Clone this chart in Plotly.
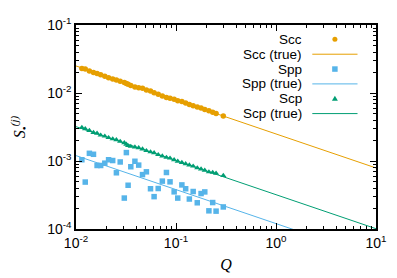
import plotly.graph_objects as go

# ---------------- data ----------------
Q = [0.01145, 0.01237, 0.01361, 0.01496, 0.01625, 0.01765, 0.01941, 0.02118,
     0.02328, 0.02535, 0.02767, 0.03041, 0.03189, 0.03320, 0.03532, 0.03882,
     0.04236, 0.04624, 0.05058, 0.05560, 0.06040, 0.06640, 0.07299, 0.08025,
     0.08717, 0.09583, 0.1041, 0.1145, 0.1249, 0.1360, 0.1485, 0.1632,
     0.1781, 0.1940, 0.2133, 0.2327, 0.2517, 0.2971]

Scc = [0.0229, 0.0225, 0.0210, 0.0201, 0.0194, 0.0186, 0.0176, 0.0168,
       0.0161, 0.0155, 0.0149, 0.0143, 0.0138, 0.0134, 0.0129, 0.0123,
       0.0119, 0.0117, 0.0111, 0.0107, 0.0101, 0.0096, 0.0090, 0.0086,
       0.0084, 0.0081, 0.0077, 0.0075, 0.0071, 0.0068, 0.0065, 0.0062,
       0.0060, 0.0057, 0.0055, 0.0052, 0.0050, 0.0046]

Spp = [1.043e-3, 4.90e-4, 1.297e-3, 1.255e-3, 8.59e-4, 8.59e-4, 9.29e-4, 1.043e-3,
       1.016e-3, 6.71e-4, 9.68e-4, 2.85e-4, 1.33e-3, 4.40e-4, 8.23e-4, 9.91e-4,
       8.70e-4, 6.31e-4, 6.93e-4, 3.91e-4, 2.99e-4, 3.94e-4, 5.06e-4, 6.78e-4,
       4.94e-4, 3.52e-4, 2.85e-4, 4.45e-4, 3.91e-4, 2.76e-4, 3.56e-4, 2.43e-4,
       3.32e-4, 3.51e-4, 1.85e-4, 2.45e-4, 1.83e-4, 2.11e-4]

Scp = [0.00310, 0.00298, 0.00280, 0.00262, 0.00255, 0.00240, 0.00232, 0.00220,
       0.00211, 0.00205, 0.00194, 0.00185, 0.00176, 0.00168, 0.00164, 0.00160,
       0.00156, 0.00150, 0.00142, 0.00136, 0.00132, 0.00124, 0.00118, 0.00113,
       0.00110, 0.00104, 0.00099, 0.00095, 0.00091, 0.00087, 0.00084, 0.00079,
       0.00076, 0.00073, 0.00069, 0.00068, 0.00066, 0.00061]

# "true" power-law lines: endpoints at Q = 0.01 and Q = 10
Q_true = [0.01, 10]
Scc_true = [0.025, 7.9e-4]
Spp_true = [1.2e-3, 3.8e-5]
Scp_true = [3.2e-3, 1.01e-4]

x_tickvals = [0.01, 0.1, 1, 10]
x_ticktext = ["10<sup>-2</sup>", "10<sup>-1</sup>", "10<sup>0</sup>", "10<sup>1</sup>"]
y_tickvals = [1e-4, 1e-3, 1e-2, 1e-1]
y_ticktext = ["10<sup>-4</sup>", "10<sup>-3</sup>", "10<sup>-2</sup>", "10<sup>-1</sup>"]

legend_labels = ["Scc", "Scc (true)", "Spp", "Spp (true)", "Scp", "Scp (true)"]

C_CC = "#e69f00"
C_PP = "#56b4e9"
C_CP = "#009e73"

# ---------------- figure ----------------
fig = go.Figure()

fig.add_trace(go.Scatter(x=Q_true, y=Scc_true, mode="lines", name="Scc (true)",
                         line=dict(color=C_CC, width=1), showlegend=False))
fig.add_trace(go.Scatter(x=Q_true, y=Spp_true, mode="lines", name="Spp (true)",
                         line=dict(color=C_PP, width=1), showlegend=False))
fig.add_trace(go.Scatter(x=Q_true, y=Scp_true, mode="lines", name="Scp (true)",
                         line=dict(color=C_CP, width=1), showlegend=False))

fig.add_trace(go.Scatter(x=Q, y=Scc, mode="markers", name="Scc",
                         marker=dict(color=C_CC, size=5.5, symbol="circle"),
                         showlegend=False))
fig.add_trace(go.Scatter(x=Q, y=Spp, mode="markers", name="Spp",
                         marker=dict(color=C_PP, size=5.5, symbol="square"),
                         showlegend=False))
fig.add_trace(go.Scatter(x=Q, y=Scp, mode="markers", name="Scp",
                         marker=dict(color=C_CP, size=5.5, symbol="triangle-up"),
                         showlegend=False))

minor_x = [m * 10 ** e for e in range(-2, 1) for m in range(2, 10)]
minor_y = [m * 10 ** e for e in range(-4, -1) for m in range(2, 10)]

tick_font = dict(family="Liberation Sans, Arial, sans-serif", size=14, color="black")
title_font = dict(family="Liberation Serif, Times New Roman, serif", size=16, color="black")

fig.update_xaxes(type="log", range=[-2, 1], tickmode="array",
                 tickvals=x_tickvals, ticktext=x_ticktext,
                 ticks="inside", ticklen=6, tickwidth=1, tickcolor="black",
                 mirror="allticks", showline=True, linecolor="black", linewidth=1.5,
                 showgrid=False, zeroline=False, tickfont=tick_font,
                 ticklabeloverflow="allow",
                 minor=dict(tickvals=minor_x, ticks="inside", ticklen=3,
                            tickcolor="black", showgrid=False),
                 title=dict(text="<i>Q</i>", font=title_font, standoff=9))
fig.update_yaxes(type="log", range=[-4, -1], tickmode="array",
                 tickvals=y_tickvals, ticktext=y_ticktext,
                 ticks="inside", ticklen=6, tickwidth=1, tickcolor="black",
                 mirror="allticks", showline=True, linecolor="black", linewidth=1.5,
                 showgrid=False, zeroline=False, tickfont=tick_font,
                 ticklabeloverflow="allow",
                 minor=dict(tickvals=minor_y, ticks="inside", ticklen=3,
                            tickcolor="black", showgrid=False),
                 title=dict(text="<i>S</i><sub>•</sub><sup><i>(j)</i></sup>",
                            font=title_font, standoff=20))

# ---------------- hand-drawn gnuplot-style key (text left, sample right) ----------------
leg_font = dict(family="Liberation Sans, Arial, sans-serif", size=13.5, color="black")
row_y = [0.92958, 0.85681, 0.78404, 0.71127, 0.63850, 0.56573]
text_x = 0.757
sym_x = 0.863
line_x0, line_x1 = 0.7877, 0.9384

for lbl, yy in zip(legend_labels, row_y):
    fig.add_annotation(x=text_x, y=yy, xref="paper", yref="paper", text=lbl,
                       showarrow=False, xanchor="right", yanchor="middle",
                       font=leg_font, borderpad=0, height=15)

shapes = []
shapes.append(dict(type="circle", xref="paper", yref="paper", xsizemode="pixel",
                   ysizemode="pixel", xanchor=sym_x, yanchor=row_y[0],
                   x0=-2.5, x1=2.5, y0=-2.5, y1=2.5,
                   fillcolor=C_CC, line=dict(width=0)))
shapes.append(dict(type="rect", xref="paper", yref="paper", xsizemode="pixel",
                   ysizemode="pixel", xanchor=sym_x, yanchor=row_y[2],
                   x0=-2.75, x1=2.75, y0=-2.75, y1=2.75,
                   fillcolor=C_PP, line=dict(width=0)))
shapes.append(dict(type="path", xref="paper", yref="paper", xsizemode="pixel",
                   ysizemode="pixel", xanchor=sym_x, yanchor=row_y[4],
                   path="M-3,-2 L3,-2 L0,3 Z",
                   fillcolor=C_CP, line=dict(width=0)))
for yy, col in [(row_y[1], C_CC), (row_y[3], C_PP), (row_y[5], C_CP)]:
    shapes.append(dict(type="line", xref="paper", yref="paper",
                       x0=line_x0, x1=line_x1, y0=yy, y1=yy,
                       line=dict(color=col, width=1)))
fig.update_layout(shapes=shapes)

# the page body has an 8 px default margin, so the figure is 8 px smaller
fig.update_layout(width=389, height=270,
                  margin=dict(l=68, r=21, t=7, b=42),
                  paper_bgcolor="white", plot_bgcolor="white",
                  showlegend=False)

fig.write_html("out.html")
